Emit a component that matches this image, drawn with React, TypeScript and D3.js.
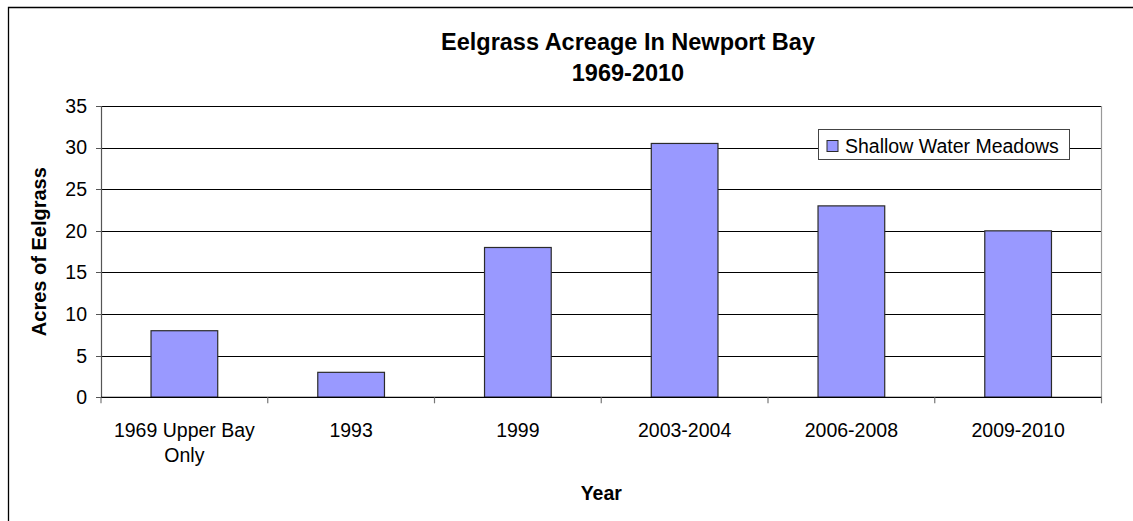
import React from "react";
import * as d3 from "d3";

// Eelgrass acreage by survey period
const categories: string[][] = [
  ["1969 Upper Bay", "Only"],
  ["1993"],
  ["1999"],
  ["2003-2004"],
  ["2006-2008"],
  ["2009-2010"],
];
const acres: number[] = [8, 3, 18, 30.5, 23, 20];
const yTicks: number[] = [0, 5, 10, 15, 20, 25, 30, 35];
const seriesName = "Shallow Water Meadows";
const titleLines = ["Eelgrass Acreage In Newport Bay", "1969-2010"];

const W = 1133;
const H = 521;
const plot = { left: 101, right: 1101.5, top: 106, bottom: 397.3 };
const FONT = "'Liberation Sans', Arial, sans-serif";
const BAR_FILL = "#9999FF";

export default function App() {
  const keys = categories.map((c) => c.join(" "));
  const x = d3
    .scaleBand<string>()
    .domain(keys)
    .range([plot.left, plot.right])
    .paddingInner(0.6)
    .paddingOuter(0.3);
  const y = d3.scaleLinear().domain([0, 35]).range([plot.bottom, plot.top]);
  const step = x.step();
  const boundaries = d3.range(categories.length + 1).map((i) => plot.left + i * step);

  return (
    <svg
      width={W}
      height={H}
      style={{ position: "absolute", left: 0, top: 0, background: "#fff" }}
      fontFamily={FONT}
    >
      {/* chart frame (left and top edges fall inside the view) */}
      <path d={`M8.5,${H + 20} V7.5 H${W + 20}`} fill="none" stroke="#000" strokeWidth={1.3} />

      {/* title */}
      <text x={628} textAnchor="middle" fontWeight="bold" fontSize={23.5} fill="#000">
        <tspan x={628} y={50}>{titleLines[0]}</tspan>
        <tspan x={628} y={81}>{titleLines[1]}</tspan>
      </text>

      {/* gridlines */}
      {yTicks.map((t) => (
        <line
          key={"g" + t}
          x1={plot.left}
          x2={plot.right}
          y1={Math.round(y(t)) + 0.5}
          y2={Math.round(y(t)) + 0.5}
          stroke="#000"
          strokeWidth={1}
        />
      ))}

      {/* plot area right edge */}
      <line x1={plot.right} x2={plot.right} y1={plot.top} y2={plot.bottom} stroke="#999" strokeWidth={1.2} />

      {/* bars */}
      {acres.map((v, i) => (
        <rect
          key={"b" + i}
          x={x(keys[i])!}
          y={y(v)}
          width={x.bandwidth()}
          height={y(0) - y(v)}
          fill={BAR_FILL}
          stroke="#2b2b2b"
          strokeWidth={1.2}
        />
      ))}

      {/* y axis */}
      <line x1={plot.left + 0.5} x2={plot.left + 0.5} y1={plot.top} y2={plot.bottom} stroke="#555" strokeWidth={1.2} />
      {yTicks.map((t) => (
        <g key={"yt" + t}>
          <line
            x1={plot.left - 5}
            x2={plot.left}
            y1={Math.round(y(t)) + 0.5}
            y2={Math.round(y(t)) + 0.5}
            stroke="#555"
          />
          <text x={87} y={y(t)} dy="0.35em" textAnchor="end" fontSize={19.5} fill="#000">
            {t}
          </text>
        </g>
      ))}

      {/* x axis */}
      <line x1={plot.left} x2={plot.right} y1={plot.bottom} y2={plot.bottom} stroke="#000" strokeWidth={1.3} />
      {boundaries.map((b, i) => (
        <line
          key={"xt" + i}
          x1={b}
          x2={b}
          y1={plot.bottom}
          y2={plot.bottom + 6}
          stroke="#777"
          strokeWidth={1.2}
        />
      ))}
      {categories.map((lines, i) => (
        <text key={"xl" + i} textAnchor="middle" fontSize={19.5} fill="#000">
          {lines.map((ln, j) => (
            <tspan key={j} x={x(keys[i])! + x.bandwidth() / 2} y={436.5 + j * 25}>
              {ln}
            </tspan>
          ))}
        </text>
      ))}

      {/* axis titles */}
      <text x={(plot.left + plot.right) / 2} y={500} textAnchor="middle" fontWeight="bold" fontSize={19.5}>
        Year
      </text>
      <text
        transform={`translate(46, ${(plot.top + plot.bottom) / 2}) rotate(-90)`}
        textAnchor="middle"
        fontWeight="bold"
        fontSize={20}
      >
        Acres of Eelgrass
      </text>

      {/* legend */}
      <rect x={818.5} y={129.5} width={251} height={30} fill="#fff" stroke="#444" strokeWidth={1} />
      <rect x={827} y={140.5} width={11} height={11} fill={BAR_FILL} stroke="#2b2b2b" strokeWidth={1} />
      <text x={845} y={153} fontSize={19.5} fill="#000">
        {seriesName}
      </text>
    </svg>
  );
}
